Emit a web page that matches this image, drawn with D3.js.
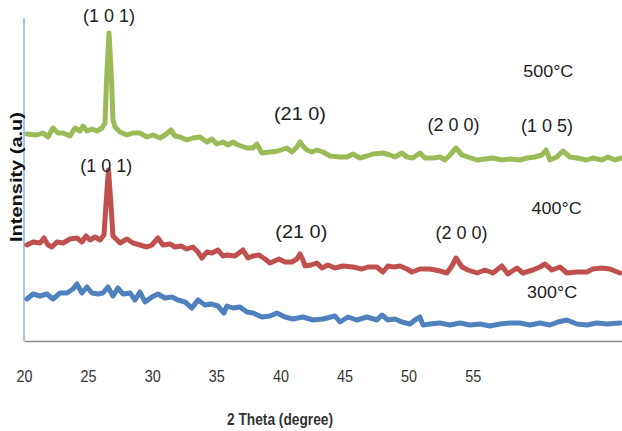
<!DOCTYPE html>
<html>
<head>
<meta charset="utf-8">
<script src="https://cdn.jsdelivr.net/npm/d3@7"></script>
<style>
  body { margin: 0; background: #fff; }
  svg { display: block; }
  text { font-family: 'Liberation Sans', Arial, sans-serif; }
</style>
</head>
<body>
<svg id="chart" width="622" height="431"></svg>
<script>
// XRD patterns, [2 theta (axis units), intensity (a.u.)]
const s500 = [
  [20.23, 207], [21.01, 206], [21.48, 208], [21.87, 204], [22.26, 213], [22.65, 208],
  [23.04, 208], [23.59, 205], [23.98, 213], [24.37, 210], [24.60, 215], [24.91, 210],
  [25.30, 212], [25.69, 210], [26.08, 213], [26.32, 218], [26.44, 261], [26.63, 308],
  [26.83, 261], [26.94, 221], [27.10, 214], [27.49, 209], [28.03, 206], [28.50, 208],
  [29.05, 208], [29.59, 204], [30.06, 206], [30.61, 203], [31.00, 206], [31.47, 211],
  [31.78, 205], [32.17, 204], [32.71, 201], [33.18, 203], [33.73, 204], [34.27, 199],
  [34.66, 202], [35.05, 197], [35.52, 199], [35.91, 196], [36.30, 199], [36.69, 196],
  [37.39, 193], [37.86, 193], [38.17, 197], [38.56, 188], [39.19, 189], [39.81, 190],
  [40.51, 193], [40.90, 189], [41.29, 194], [41.53, 199], [41.76, 195], [42.07, 191],
  [42.46, 189], [42.85, 191], [43.32, 189], [43.87, 185], [44.65, 184], [45.19, 184],
  [45.66, 187], [46.21, 183], [46.75, 185], [47.22, 187], [48.00, 188], [48.55, 186],
  [48.94, 184], [49.48, 188], [49.87, 184], [50.34, 183], [50.89, 188], [51.28, 183],
  [51.90, 183], [52.45, 184], [52.84, 181], [53.23, 186], [53.70, 193], [54.17, 186],
  [54.63, 184], [55.34, 181], [55.96, 182], [56.58, 183], [57.28, 181], [57.91, 182],
  [58.69, 181], [59.23, 183], [59.86, 184], [60.40, 186], [60.72, 191], [61.03, 181],
  [61.57, 184], [62.04, 190], [62.59, 184], [63.13, 183], [63.91, 181], [64.38, 183],
  [65.08, 181], [65.55, 184], [66.10, 181], [66.64, 183]
];

const s400 = [
  [20.23, 96], [20.70, 99], [21.25, 98], [21.56, 103], [21.87, 96], [22.18, 94],
  [22.57, 99], [23.04, 98], [23.59, 102], [24.13, 103], [24.52, 99], [24.84, 105],
  [25.15, 101], [25.54, 104], [25.93, 101], [26.24, 106], [26.42, 141], [26.59, 171],
  [26.76, 141], [26.94, 105], [27.10, 103], [27.49, 98], [28.03, 102], [28.50, 98],
  [29.05, 96], [29.59, 94], [29.98, 96], [30.45, 103], [30.84, 96], [31.39, 97],
  [31.78, 94], [32.25, 95], [32.71, 92], [33.18, 94], [33.57, 89], [33.88, 83],
  [34.27, 89], [34.66, 88], [35.13, 91], [35.52, 85], [35.83, 86], [36.46, 85],
  [37.08, 91], [37.47, 83], [37.86, 85], [38.33, 86], [38.80, 82], [39.19, 78],
  [39.89, 82], [40.36, 79], [40.90, 79], [41.29, 82], [41.53, 87], [41.76, 81],
  [41.92, 75], [42.39, 76], [42.85, 78], [43.24, 73], [43.71, 76], [44.26, 73],
  [44.88, 75], [45.66, 74], [46.36, 72], [46.83, 74], [47.53, 74], [48.00, 69],
  [48.39, 75], [48.86, 74], [49.33, 75], [49.87, 72], [50.26, 69], [50.89, 72],
  [51.67, 72], [52.45, 70], [52.99, 68], [53.38, 75], [53.70, 83], [54.17, 74],
  [54.63, 71], [55.34, 68], [55.96, 71], [56.58, 68], [57.28, 75], [57.75, 67],
  [58.45, 73], [58.92, 68], [59.70, 71], [60.25, 74], [60.64, 77], [61.18, 71],
  [61.81, 74], [62.35, 68], [63.13, 69], [63.91, 69], [64.38, 72], [65.08, 73],
  [65.71, 72], [66.49, 68]
];

const s300 = [
  [20.23, 42], [20.70, 47], [21.25, 45], [21.79, 47], [22.26, 42], [22.81, 48],
  [23.35, 48], [23.82, 52], [24.13, 57], [24.52, 48], [24.91, 54], [25.30, 48],
  [25.77, 47], [26.16, 48], [26.55, 54], [26.94, 45], [27.33, 53], [27.72, 47],
  [28.27, 48], [28.66, 41], [29.05, 49], [29.44, 39], [29.98, 44], [30.45, 47],
  [31.00, 43], [31.54, 44], [32.01, 41], [32.56, 39], [33.10, 33], [33.57, 41],
  [34.12, 36], [34.59, 37], [35.13, 35], [35.60, 28], [35.83, 35], [36.30, 33],
  [36.85, 34], [37.39, 29], [37.86, 28], [38.56, 24], [39.19, 25], [39.73, 28],
  [40.36, 24], [40.98, 22], [41.76, 24], [42.54, 21], [43.32, 22], [44.26, 25],
  [44.65, 19], [45.27, 24], [45.97, 21], [46.75, 24], [47.53, 21], [47.92, 26],
  [48.39, 21], [48.94, 22], [49.48, 19], [50.11, 17], [50.50, 21], [50.89, 24],
  [51.12, 16], [51.67, 17], [52.45, 18], [53.23, 16], [54.01, 18], [54.79, 16],
  [55.57, 17], [56.35, 15], [57.13, 17], [57.91, 18], [58.69, 18], [59.47, 16],
  [60.25, 18], [61.03, 16], [61.65, 19], [62.35, 21], [63.13, 17], [63.91, 16],
  [64.69, 18], [65.47, 17], [66.49, 18]
];

const xTicks = [20, 25, 30, 35, 40, 45, 50, 55];
const seriesNames = ['300°C', '400°C', '500°C'];
const seriesColors = ['#4f81bd', '#c0504d', '#9bbb59'];

// peak labels: [2 theta, intensity, text]
const peaks500 = [[26.63, 319, '(1 0 1)'], [41.53, 221, '(21 0)'], [53.50, 210, '(2 0 0)'], [60.80, 209, '(1 0 5)']];
const peaks400 = [[26.42, 169, '(1 0 1)'], [41.63, 103, '(21 0)'], [54.13, 102, '(2 0 0)']];
const nameAt = [[61.20, 43], [61.55, 127], [60.90, 264]];

const svg = d3.select('#chart'),
  margin = {top: 18, left: 24, right: 0, bottom: 90},
  width = +svg.attr('width') - margin.left - margin.right,
  height = +svg.attr('height') - margin.top - margin.bottom;

const x = d3.scaleLinear()
  .domain([20, 66.65])
  .range([margin.left, margin.left + width]);

const y = d3.scaleLinear()
  .domain([0, 323])
  .range([margin.top + height, margin.top]);

// y axis line (no ticks)
svg.append('line')
  .attr('x1', x(20)).attr('x2', x(20))
  .attr('y1', y(323)).attr('y2', y(0))
  .attr('stroke', '#8eb0dc')
  .attr('stroke-width', 1.5);

const xAxis = svg.append('g')
  .attr('transform', 'translate(0,' + y(0) + ')')
  .call(d3.axisBottom(x).tickValues(xTicks).tickSize(0).tickPadding(30));

xAxis.select('.domain')
  .attr('stroke', '#8a8a8a')
  .attr('stroke-width', 1.5);

// narrow glyphs, like the original's Calibri
xAxis.selectAll('text')
  .attr('font-size', 16)
  .attr('fill', '#333')
  .attr('textLength', 16)
  .attr('lengthAdjust', 'spacingAndGlyphs')
  .style('font-family', "'Liberation Sans', Arial, sans-serif");

svg.append('text')
  .attr('x', 280)
  .attr('y', 425)
  .attr('text-anchor', 'middle')
  .attr('font-size', 16)
  .attr('font-weight', 'bold')
  .attr('fill', '#333')
  .attr('textLength', 106)
  .attr('lengthAdjust', 'spacingAndGlyphs')
  .text('2 Theta (degree)');

svg.append('text')
  .attr('transform', 'translate(22,177) rotate(-90)')
  .attr('text-anchor', 'middle')
  .attr('font-size', 17)
  .attr('font-weight', 'bold')
  .attr('fill', '#111')
  .attr('textLength', 130)
  .attr('lengthAdjust', 'spacingAndGlyphs')
  .text('Intensity (a.u)');

const line = d3.line()
  .x(function(d) { return x(d[0]); })
  .y(function(d) { return y(d[1]); });

svg.append('g')
  .selectAll('path')
  .data([s300, s400, s500])
  .enter().append('path')
  .attr('fill', 'none')
  .attr('stroke', function(d, i) { return seriesColors[i]; })
  .attr('stroke-width', 5)
  .attr('stroke-linejoin', 'round')
  .attr('stroke-linecap', 'round')
  .attr('d', line);

svg.append('g')
  .selectAll('text')
  .data(peaks500.concat(peaks400))
  .enter().append('text')
  .attr('x', function(d) { return x(d[0]); })
  .attr('y', function(d) { return y(d[1]); })
  .attr('text-anchor', 'middle')
  .attr('font-size', 18)
  .attr('fill', '#222')
  .attr('textLength', 52)
  .attr('lengthAdjust', 'spacingAndGlyphs')
  .text(function(d) { return d[2]; });

svg.append('g')
  .selectAll('text')
  .data(nameAt)
  .enter().append('text')
  .attr('x', function(d) { return x(d[0]); })
  .attr('y', function(d) { return y(d[1]); })
  .attr('text-anchor', 'middle')
  .attr('font-size', 17)
  .attr('fill', '#222')
  .attr('textLength', 50)
  .attr('lengthAdjust', 'spacingAndGlyphs')
  .text(function(d, i) { return seriesNames[i]; });
</script>
</body>
</html>
